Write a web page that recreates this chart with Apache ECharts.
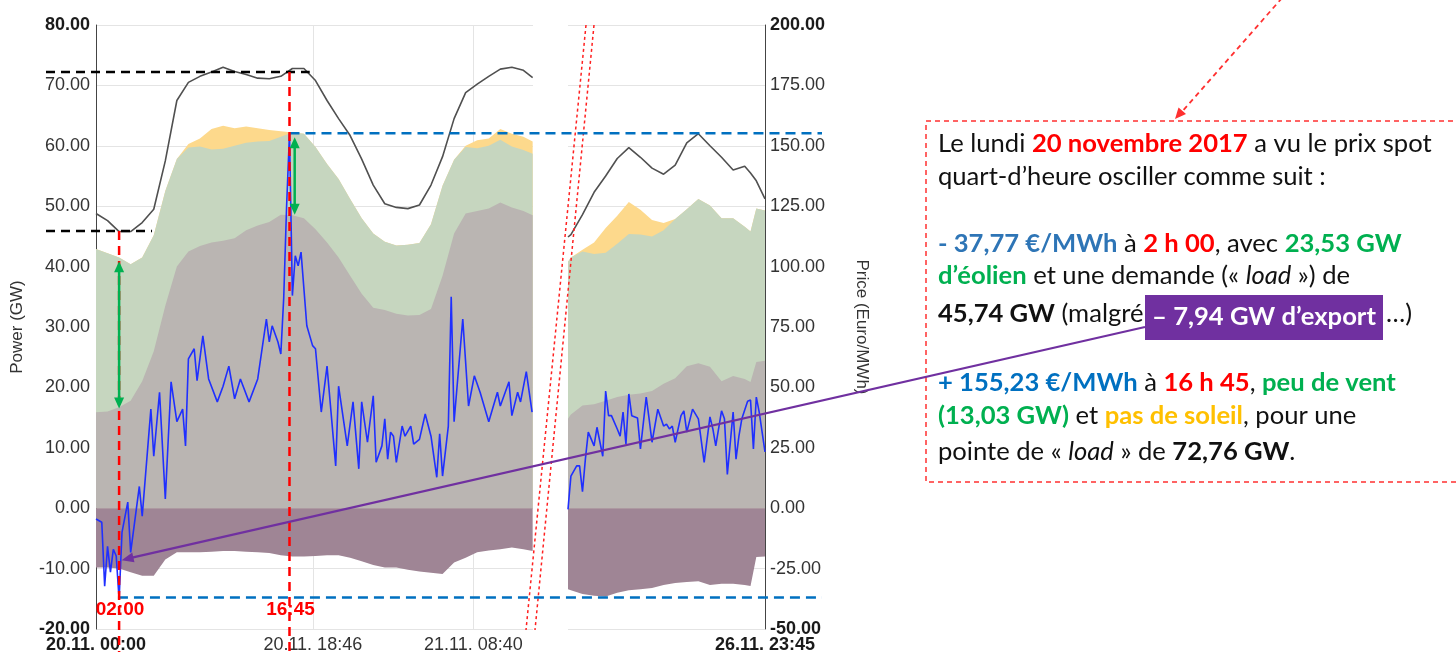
<!DOCTYPE html>
<html>
<head>
<meta charset="utf-8">
<title>Prix spot 20.11.2017</title>
<script src="https://cdn.jsdelivr.net/npm/echarts@6/dist/echarts.min.js"></script>
<style>
    html, body {margin: 0; padding: 0; background: #fff;}
    #main {width: 1456px; height: 652px;}
</style>
</head>
<body>
<div id="main"></div>
<script>
// partie gauche : heures depuis le 20.11. 00:00
var hoursLeft = [0, 1, 2, 3, 4, 5, 6, 7, 8, 9, 10, 11, 12, 13, 14, 15, 16, 17, 18, 19,
    20, 21, 22, 23, 24, 25, 26, 27, 28, 29, 30, 31, 32, 33, 34, 35, 36, 37, 37.8];
var exportLeft = [-9.8, -9.8, -10.0, -10.6, -11.2, -11.2, -8.5, -7.3, -7.3, -7.3, -7.2, -7.1, -7.1, -7.2, -7.3, -7.4, -7.8, -8.0, -8.0, -7.9,
    -7.8, -7.8, -8.2, -8.8, -9.4, -9.8, -9.8, -10.2, -10.5, -10.7, -10.9, -9.0, -8.2, -7.3, -7.0, -6.8, -6.5, -6.8, -7.1];
var conventionalLeft = [15.9, 16.0, 16.7, 17.8, 21.0, 26.0, 33.5, 40.0, 42.5, 43.4, 44.0, 44.3, 44.7, 46.0, 46.8, 47.4, 48.6, 48.5, 48.0, 46.2,
    44.0, 41.5, 38.5, 35.5, 33.2, 32.8, 32.2, 31.9, 32.0, 33.0, 38.5, 45.5, 48.8, 49.2, 49.6, 50.6, 49.8, 49.2, 48.5];
var windLeft = [42.9, 42.2, 41.5, 40.4, 41.5, 45.2, 52.5, 57.8, 59.7, 59.9, 59.4, 59.5, 60.0, 60.5, 60.7, 60.8, 61.5, 62.2, 62.0, 59.8,
    57.0, 54.5, 51.2, 48.0, 45.5, 44.1, 43.5, 43.6, 43.9, 47.0, 53.4, 57.7, 59.8, 59.6, 60.0, 61.0, 59.9, 59.3, 58.7];
var solarLeft = [42.9, 42.2, 41.5, 40.4, 41.5, 45.2, 52.5, 57.8, 60.3, 61.2, 62.8, 63.3, 62.9, 63.2, 62.9, 62.6, 62.4, 62.2, 62.0, 59.8,
    57.0, 54.5, 51.2, 48.0, 45.5, 44.1, 43.5, 43.6, 43.9, 47.0, 53.4, 57.7, 60.0, 60.9, 61.2, 62.8, 62.0, 61.5, 60.7];
var loadLeft = [48.8, 47.6, 45.8, 45.8, 47.3, 49.5, 57.5, 67.5, 70.5, 71.5, 72.2, 73.0, 72.3, 71.8, 71.2, 71.1, 71.5, 72.8, 72.8, 70.8,
    67.5, 64.5, 61.7, 57.8, 53.5, 50.4, 49.8, 49.6, 50.2, 53.5, 58.2, 64.5, 68.8, 70.2, 71.5, 72.7, 73.0, 72.5, 71.3];
var priceHoursLeft = [0, 0.5, 0.75, 1, 1.25, 1.5, 1.75, 2, 2.25, 2.75, 3, 3.75, 4, 4.75, 5, 5.5, 6, 6.5, 7, 7.5,
    7.75, 8, 8.5, 8.75, 9.25, 9.75, 10.5, 11, 11.5, 12, 12.5, 13.25, 14, 14.75, 15, 15.25, 15.75, 16, 16.25, 16.5,
    16.75, 17, 17.25, 17.5, 17.75, 18.25, 18.75, 19, 19.5, 20, 20.75, 21, 21.75, 22.25, 22.75, 23, 23.5, 24, 24.25, 24.75,
    25, 25.25, 25.5, 25.75, 26, 26.5, 26.75, 27.25, 27.5, 28, 28.5, 29, 29.5, 29.75, 30, 30.5, 30.75, 31, 31.75, 32.25,
    32.75, 33.25, 34, 34.75, 35, 35.75, 36, 36.5, 36.75, 37.25, 37.75];
var priceLeft = [-4.5, -5.8, -32.3, -15.8, -26.5, -17, -19.8, -37.77, -10, 2.5, -18.3, 9, -3.3, 41, 21.5, 48, 3.8, 52.3, 35.8, 41,
    25.8, 61.8, 66, 52.8, 71.3, 53.5, 44, 50.5, 58.8, 45.3, 53.5, 44, 53.5, 78.3, 68.8, 75.5, 68.8, 63.8, 87, 125,
    155.23, 88, 104.5, 100.3, 106, 75.5, 67.3, 66, 39.8, 58.8, 17.5, 50.5, 25.8, 44, 16.3, 44, 27.3, 46.5, 19, 25.8,
    37, 20.3, 31.5, 29.8, 19, 34, 29.8, 34, 26.5, 28.5, 39, 29.8, 12.8, 30.8, 13.3, 34, 87.5, 35.8, 78.3, 42.3,
    54.8, 48, 35.8, 48, 42.3, 52.3, 38.3, 48, 44, 56.5, 39.8];

// partie droite : heures depuis le 26.11. 00:00
var hoursRight = [6.75, 7, 8, 9, 10, 11, 12, 13, 14, 15, 16, 17, 18, 19, 20, 21, 22, 22.5, 23, 23.75];
var exportRight = [-13.4, -13.6, -14.2, -14.5, -14.6, -14.0, -13.6, -13.4, -13.2, -12.7, -12.4, -12.2, -12.1, -12.7, -12.5, -12.5, -12.7, -12.9, -8.1, -8.0];
var conventionalRight = [14.8, 15.5, 17.0, 17.2, 17.8, 18.4, 18.8, 19.0, 19.4, 20.6, 21.5, 23.5, 24.0, 23.4, 21.0, 21.9, 21.4, 20.9, 24.2, 24.4];
var windRight = [40.8, 41.5, 42.5, 42.1, 42.3, 43.8, 45.4, 45.3, 45.0, 46.0, 47.9, 49.5, 51.2, 50.1, 48.0, 48.0, 46.6, 45.8, 49.6, 49.3];
var solarRight = [40.8, 41.5, 42.8, 44.0, 46.4, 48.4, 50.7, 49.4, 47.7, 47.2, 47.9, 49.5, 51.2, 50.1, 48.0, 48.0, 46.6, 45.8, 49.6, 49.3];
var loadRight = [44.9, 45.3, 48.6, 52.3, 55.0, 57.9, 59.7, 58.1, 56.3, 55.3, 56.8, 60.5, 62.0, 60.0, 58.1, 56.0, 56.6, 55.5, 54.2, 51.2];
var priceHoursRight = [6.75, 7, 7.5, 7.75, 8, 8.25, 8.5, 9, 9.25, 9.75, 10, 10.25, 10.5, 11, 11.25, 11.5, 11.75, 12, 12.25, 12.75,
    13, 13.5, 13.75, 14, 14.5, 15, 15.25, 15.5, 15.75, 16, 16.5, 16.75, 17, 17.5, 18, 18.5, 19, 19.25, 19.5, 20,
    20.25, 20.5, 21, 21.25, 21.5, 21.75, 22.25, 22.5, 22.75, 23, 23.25, 23.75];
var priceRight = [-0.5, 13.3, 17.5, 17.5, 6.8, 20.3, 31.5, 25.8, 33.5, 21.5, 48.5, 38.3, 38.3, 32.8, 29.8, 39.8, 26.5, 47.3, 38.3, 37.3,
    24.5, 46, 37, 27.3, 41, 34, 34.8, 32.8, 34, 27.3, 38.3, 40.3, 31.5, 41, 37, 19, 37.8, 32.8, 25.8, 40.3,
    37, 14, 39.8, 20.3, 29.8, 37, 44.3, 44.8, 24.5, 46, 39.8, 23.3];

// graduations de l'axe du temps
var xTicksLeft = [0, 18.767, 32.667];
var xLabelsLeft = ['20.11. 00:00', '20.11. 18:46', '21.11. 08:40'];
var xTicksRight = [23.75];
var xLabelsRight = ['26.11. 23:45'];

// repères de l'annotation
var hourMin = 2, hourMax = 16.75;
var loadMinLevel = 45.9, loadPeakLevel = 72.2;
var priceMinLevel = -37.0, priceMaxLevel = 155.23;
var windArrowMin = [2, 40.9, 16.5];
var windArrowMax = [17.2, 61.4, 48.6];
var exportPoint = [2.22, -8.6];

var axisFont = 'Liberation Sans';
var boxFont = 'Lato';
var boxSize = 25.6;

function extend(a, b) {
    var o = {}, k;
    for (k in a) { o[k] = a[k]; }
    for (k in b) { o[k] = b[k]; }
    return o;
}

function pairs(xs, ys) {
    return xs.map(function (x, i) { return [x, ys[i]]; });
}

function areaSeries(xIdx, yIdx, data, color) {
    return {
        type: 'line', xAxisIndex: xIdx, yAxisIndex: yIdx, data: data,
        symbol: 'none', silent: true,
        lineStyle: {width: 0},
        areaStyle: {color: color, opacity: 1}
    };
}

function lineSeries(xIdx, yIdx, data, color, width) {
    return {
        type: 'line', xAxisIndex: xIdx, yAxisIndex: yIdx, data: data,
        symbol: 'none', silent: true,
        lineStyle: {color: color, width: width}
    };
}

function timeLabel(ticks, labels, boldIdx) {
    return function (v) {
        for (var i = 0; i < ticks.length; i++) {
            if (Math.abs(v - ticks[i]) < 0.01) {
                return i === boldIdx ? '{b|' + labels[i] + '}' : labels[i];
            }
        }
        return '';
    };
}

function valueLabel(lo, hi) {
    return function (v) {
        var s = v.toFixed(2);
        return (Math.abs(v - lo) < 1e-6 || Math.abs(v - hi) < 1e-6) ? '{b|' + s + '}' : s;
    };
}

var labelStyle = {fontSize: 18, fontFamily: axisFont, color: '#333', rich: {b: {fontWeight: 'bold', color: '#1a1a1a'}}};
var gridLine = {lineStyle: {color: '#e4e4e4', width: 1}};

var chart = echarts.init(document.getElementById('main'));

var option = {
    animation: false,
    backgroundColor: '#fff',
    grid: [
        {left: 96, top: 25, width: 437, height: 604, outerBoundsMode: 'none'},
        {left: 568, top: 25, width: 197, height: 604, outerBoundsMode: 'none'}
    ],
    xAxis: [{
        type: 'value', gridIndex: 0, min: 0, max: 37.83,
        axisLine: {show: false, onZero: false},
        axisTick: {show: false, customValues: xTicksLeft},
        splitLine: gridLine,
        axisLabel: extend(labelStyle, {customValues: xTicksLeft, margin: 7, formatter: timeLabel(xTicksLeft, xLabelsLeft, 0)})
    }, {
        type: 'value', gridIndex: 1, min: 6.75, max: 23.75,
        axisLine: {show: false, onZero: false},
        axisTick: {show: false, customValues: xTicksRight},
        splitLine: {show: false},
        axisLabel: extend(labelStyle, {customValues: xTicksRight, margin: 7, formatter: timeLabel(xTicksRight, xLabelsRight, 0)})
    }],
    yAxis: [{
        type: 'value', gridIndex: 0, position: 'left', min: -20, max: 80, interval: 10,
        name: 'Power (GW)', nameLocation: 'middle', nameGap: 70,
        nameTextStyle: {fontSize: 17, fontFamily: axisFont, color: '#333'},
        axisLine: {show: true, onZero: false, lineStyle: {color: '#444', width: 1}},
        axisTick: {show: false},
        splitLine: gridLine,
        axisLabel: extend(labelStyle, {margin: 6, formatter: valueLabel(-20, 80)})
    }, {
        type: 'value', gridIndex: 0, position: 'right', min: -50, max: 200, interval: 25, show: false
    }, {
        type: 'value', gridIndex: 1, position: 'left', min: -20, max: 80, interval: 10, show: false
    }, {
        type: 'value', gridIndex: 1, position: 'right', min: -50, max: 200, interval: 25,
        name: 'Price (Euro/MWh)', nameLocation: 'middle', nameGap: 88, nameRotate: -90,
        nameTextStyle: {fontSize: 17, fontFamily: axisFont, color: '#333'},
        axisLine: {show: true, onZero: false, lineStyle: {color: '#444', width: 1}},
        axisTick: {show: false},
        splitLine: gridLine,
        axisLabel: extend(labelStyle, {margin: 5, formatter: valueLabel(-50, 200)})
    }],
    series: [
        areaSeries(0, 0, pairs(hoursLeft, solarLeft), '#fdd98c'),
        areaSeries(0, 0, pairs(hoursLeft, windLeft), '#c6d6bf'),
        areaSeries(0, 0, pairs(hoursLeft, conventionalLeft), '#bab5b2'),
        areaSeries(0, 0, pairs(hoursLeft, exportLeft), '#9f8595'),
        lineSeries(0, 0, pairs(hoursLeft, loadLeft), '#505050', 1.6),
        lineSeries(0, 1, pairs(priceHoursLeft, priceLeft), '#1f2fff', 1.6),
        areaSeries(1, 2, pairs(hoursRight, solarRight), '#fdd98c'),
        areaSeries(1, 2, pairs(hoursRight, windRight), '#c6d6bf'),
        areaSeries(1, 2, pairs(hoursRight, conventionalRight), '#bab5b2'),
        areaSeries(1, 2, pairs(hoursRight, exportRight), '#9f8595'),
        lineSeries(1, 2, pairs(hoursRight, loadRight), '#505050', 1.6),
        lineSeries(1, 3, pairs(priceHoursRight, priceRight), '#1f2fff', 1.6)
    ]
};
chart.setOption(option);

// --- annotations ---
function pxGW(h, v) { return chart.convertToPixel({xAxisIndex: 0, yAxisIndex: 0}, [h, v]); }
function pxPrice(h, v) { return chart.convertToPixel({xAxisIndex: 0, yAxisIndex: 1}, [h, v]); }

var g = [];
function seg(x1, y1, x2, y2, color, width, dash) {
    g.push({type: 'line', z: 50, silent: true, shape: {x1: x1, y1: y1, x2: x2, y2: y2},
        style: {stroke: color, lineWidth: width, lineDash: dash || null}});
}
function head(tx, ty, fx, fy, color, len, half) {
    var dx = tx - fx, dy = ty - fy, d = Math.sqrt(dx * dx + dy * dy);
    var ux = dx / d, uy = dy / d, bx = tx - ux * len, by = ty - uy * len;
    g.push({type: 'polygon', z: 55, silent: true,
        shape: {points: [[tx, ty], [bx - uy * half, by + ux * half], [bx + uy * half, by - ux * half]]},
        style: {fill: color}});
}
function text(x, y, str, style) {
    g.push({type: 'text', z: 60, silent: true, style: extend({x: x, y: y, text: str}, style)});
}

var xMin = pxGW(hourMin, 0)[0], xMax = pxGW(hourMax, 0)[0];
var yLoadPeak = pxGW(0, loadPeakLevel)[1], yLoadMin = pxGW(0, loadMinLevel)[1];
var yPriceMax = pxPrice(0, priceMaxLevel)[1], yPriceMin = pxPrice(0, priceMinLevel)[1];

// coupure de l'axe
seg(586, 25, 526, 630, '#ff2020', 1.5, [3, 3]);
seg(594, 25, 535, 630, '#ff2020', 1.5, [3, 3]);

// niveaux de charge (noir) et de prix (bleu)
seg(46, yLoadPeak, pxGW(18.5, 0)[0], yLoadPeak, '#000', 2.5, [9, 6]);
seg(46, yLoadMin, pxGW(4.85, 0)[0], yLoadMin, '#000', 2.5, [9, 6]);
seg(xMax, yPriceMax, 822, yPriceMax, '#0070c0', 2.5, [10, 6]);
seg(pxGW(1.9, 0)[0], yPriceMin, 822, yPriceMin, '#0070c0', 2.5, [10, 6]);

// verticales rouges
seg(xMin, yLoadMin, xMin, 652, '#ff0000', 2.5, [9, 6]);
seg(xMax, yLoadPeak, xMax, 652, '#ff0000', 2.5, [9, 6]);
text(xMin + 1, 610, '02:00', {fill: '#ff0000', fontSize: 19, fontWeight: 'bold', fontFamily: axisFont, align: 'center', verticalAlign: 'middle'});
text(xMax + 1, 610, '16:45', {fill: '#ff0000', fontSize: 19, fontWeight: 'bold', fontFamily: axisFont, align: 'center', verticalAlign: 'middle'});

// flèches vertes (éolien)
[windArrowMin, windArrowMax].forEach(function (a) {
    var p1 = pxGW(a[0], a[1]), p2 = pxGW(a[0], a[2]);
    seg(p1[0], p1[1] + 8, p2[0], p2[1] - 8, '#00b050', 2.5);
    head(p1[0], p1[1], p2[0], p2[1], '#00b050', 11, 5);
    head(p2[0], p2[1], p1[0], p1[1], '#00b050', 11, 5);
});

// flèche violette vers l'export
var pe = pxGW(exportPoint[0], exportPoint[1]);
seg(pe[0] + 6, pe[1] - 1.5, 1145, 327, '#7030a0', 2.2);
head(pe[0], pe[1], 1145, 327, '#7030a0', 12, 5);

// cadre de texte et flèche rouge
g.push({type: 'rect', z: 40, silent: true, shape: {x: 926, y: 121, width: 620, height: 361},
    style: {fill: '#fff', stroke: '#ff3030', lineWidth: 1.5, lineDash: [5, 4]}});
seg(1282, -2, 1180, 114, '#ff3030', 1.8, [5, 4]);
head(1175, 119, 1282, -2, '#ff3030', 11, 5);

function rs(color, weight, style) {
    return {fill: color, fontSize: boxSize, fontFamily: boxFont, fontWeight: weight || 'normal', fontStyle: style || 'normal'};
}
var rich = {
    n: rs('#111'), k: rs('#111', 'bold'), i: rs('#111', 'normal', 'italic'),
    r: rs('#ff0000', 'bold'), g: rs('#00b050', 'bold'), y: rs('#ffc000', 'bold'),
    b1: rs('#2e75b6', 'bold'), b2: rs('#0070c0', 'bold')
};
var boxLines = [
    [['n', 'Le lundi '], ['r', '20 novembre 2017'], ['n', ' a vu le prix spot']],
    [['n', 'quart-d\u2019heure osciller comme suit :']],
    [['b1', '- 37,77 \u20ac/MWh'], ['n', ' \u00e0 '], ['r', '2 h 00'], ['n', ', avec '], ['g', '23,53 GW']],
    [['g', 'd\u2019\u00e9olien'], ['n', ' et une demande (\u00ab '], ['i', 'load'], ['n', ' \u00bb) de']],
    [['k', '45,74 GW'], ['n', ' (malgr\u00e9']],
    [['b2', '+ 155,23 \u20ac/MWh'], ['n', ' \u00e0 '], ['r', '16 h 45'], ['n', ', '], ['g', 'peu de vent']],
    [['g', '(13,03 GW)'], ['n', ' et '], ['y', 'pas de soleil'], ['n', ', pour une']],
    [['n', 'pointe de \u00ab '], ['i', 'load'], ['n', ' \u00bb de '], ['k', '72,76 GW'], ['n', '.']]
];
var boxBaselines = [152, 185, 252, 284, 322, 391, 424, 460];
boxLines.forEach(function (line, i) {
    var str = line.map(function (s) { return '{' + s[0] + '|' + s[1] + '}'; }).join('');
    text(938, boxBaselines[i] - 8, str, {rich: rich, fontSize: boxSize, fontFamily: boxFont, verticalAlign: 'middle'});
});

// étiquette violette de l'export
g.push({type: 'rect', z: 62, silent: true, shape: {x: 1145, y: 295, width: 238, height: 45}, style: {fill: '#7030a0'}});
text(1264, 317, '\u2013 7,94 GW d\u2019export', {fill: '#fff', fontSize: boxSize, fontWeight: 'bold', fontFamily: boxFont, align: 'center', verticalAlign: 'middle'});
g[g.length - 1].z = 64;
text(1386, 322 - 8, '\u2026)', {fill: '#111', fontSize: boxSize, fontFamily: boxFont, verticalAlign: 'middle'});

chart.setOption({graphic: g});
</script>
</body>
</html>
